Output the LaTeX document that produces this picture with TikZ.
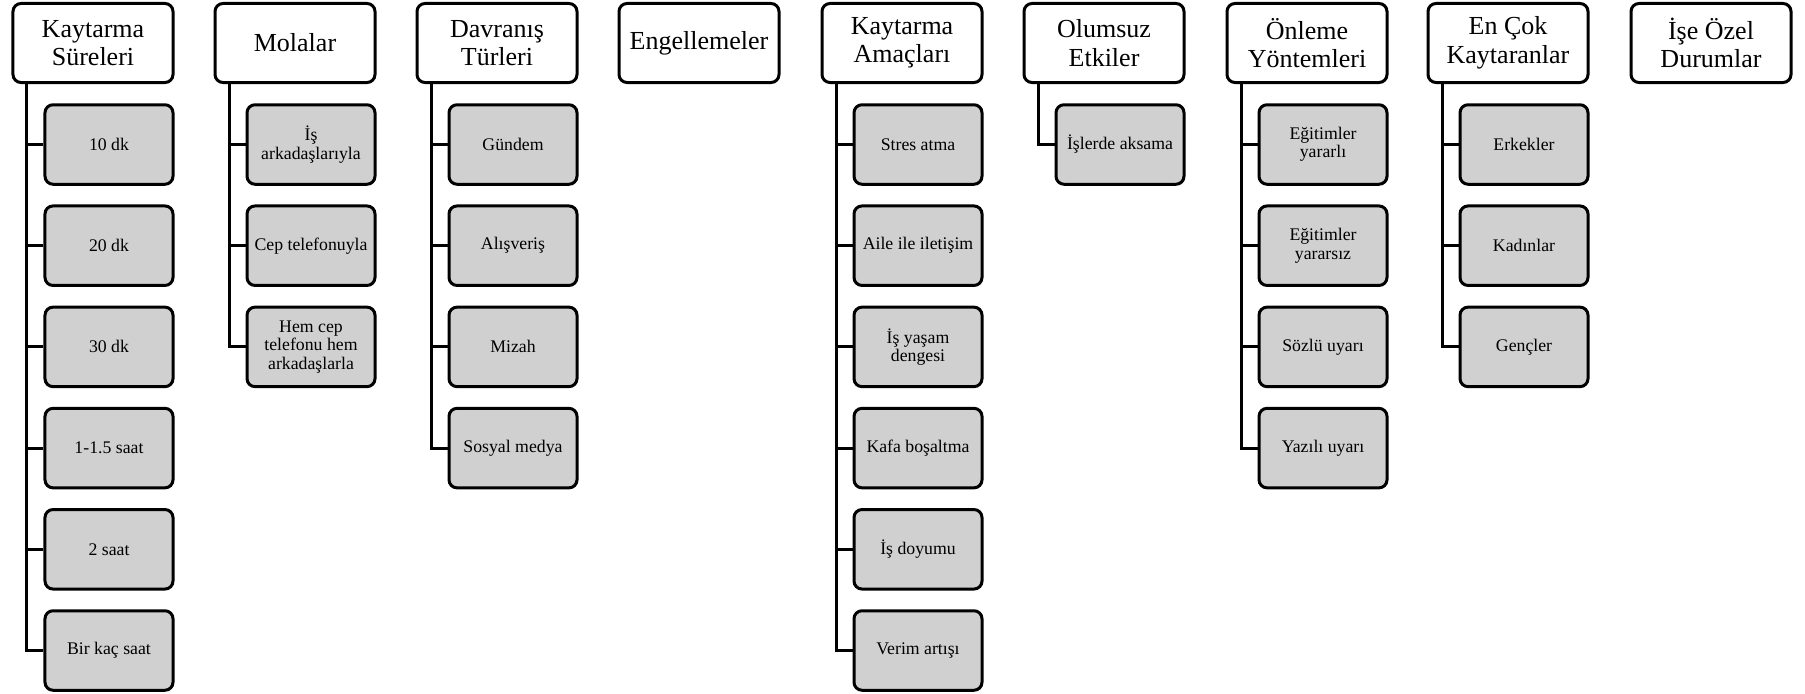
\documentclass[tikz,border=0pt]{standalone}
\usepackage{fontspec}
\setmainfont{Liberation Serif}
\newfontfamily\tnr{Liberation Serif}
\definecolor{altgri}{RGB}{208,208,208}
\tikzset{
	baslik/.style = {draw, line width=1.2pt, rounded corners=3.2pt, fill=white, align=center,
		minimum width=64pt, minimum height=31.6pt, inner sep=1pt,
		font=\tnr\fontsize{10.4}{11.4}\selectfont},
	alt/.style = {draw, line width=1.2pt, rounded corners=3.2pt, fill=altgri, align=center,
		minimum width=51.2pt, minimum height=31.8pt, inner sep=1pt,
		font=\tnr\fontsize{7.1}{7.4}\selectfont},
	kol/.style = {line width=1.2pt}
}
\begin{document}
\begin{tikzpicture}[x = 0.4pt, y = -0.4pt]
	\useasboundingbox (0,0) rectangle (1805,693);
	
	% Kaytarma Sureleri
	\begin{scope}[shift={(12,0)}]
		\node[baslik] (h1) at (81,43) {Kaytarma\\Süreleri};
		\coordinate (t1) at ([xshift=6.2pt]h1.south west);
		\foreach \m [count=\k] in {10 dk, 20 dk, 30 dk, 1-1.5 saat, 2 saat, Bir kaç saat} {
			\node[alt] (c1-\k) at (97,{144.5+101.2*(\k-1)}) {\m};
			\draw[kol] (t1) |- (c1-\k.west);
		}
	\end{scope}
	
	% Molalar
	\begin{scope}[shift={(214,0)}]
		\node[baslik] (h2) at (81,43) {Molalar};
		\coordinate (t2) at ([xshift=6.2pt]h2.south west);
		\foreach \m [count=\k] in {{İş\\arkadaşlarıyla}, Cep telefonuyla, {Hem cep\\telefonu hem\\arkadaşlarla}} {
			\node[alt] (c2-\k) at (97,{144.5+101.2*(\k-1)}) {\m};
			\draw[kol] (t2) |- (c2-\k.west);
		}
	\end{scope}
	
	% Davranis Turleri
	\begin{scope}[shift={(416,0)}]
		\node[baslik] (h3) at (81,43) {Davranış\\Türleri};
		\coordinate (t3) at ([xshift=6.2pt]h3.south west);
		\foreach \m [count=\k] in {Gündem, Alışveriş, Mizah, Sosyal medya} {
			\node[alt] (c3-\k) at (97,{144.5+101.2*(\k-1)}) {\m};
			\draw[kol] (t3) |- (c3-\k.west);
		}
	\end{scope}
	
	% Engellemeler
	\node[baslik] (h4) at (699,43) {Engellemeler};
	
	% Kaytarma Amaclari
	\begin{scope}[shift={(821,0)}]
		\node[baslik] (h5) at (81,43) {Kaytarma\\Amaçları};
		\coordinate (t5) at ([xshift=6.2pt]h5.south west);
		\foreach \m [count=\k] in {Stres atma, Aile ile iletişim, {İş yaşam\\dengesi}, Kafa boşaltma, İş doyumu, Verim artışı} {
			\node[alt] (c5-\k) at (97,{144.5+101.2*(\k-1)}) {\m};
			\draw[kol] (t5) |- (c5-\k.west);
		}
	\end{scope}
	
	% Olumsuz Etkiler
	\begin{scope}[shift={(1023,0)}]
		\node[baslik] (h6) at (81,43) {Olumsuz\\Etkiler};
		\coordinate (t6) at ([xshift=6.2pt]h6.south west);
		\node[alt] (c6-1) at (97,144.5) {İşlerde aksama};
		\draw[kol] (t6) |- (c6-1.west);
	\end{scope}
	
	% Onleme Yontemleri
	\begin{scope}[shift={(1226,0)}]
		\node[baslik] (h7) at (81,43) {Önleme\\Yöntemleri};
		\coordinate (t7) at ([xshift=6.2pt]h7.south west);
		\foreach \m [count=\k] in {{Eğitimler\\yararlı}, {Eğitimler\\yararsız}, Sözlü uyarı, Yazılı uyarı} {
			\node[alt] (c7-\k) at (97,{144.5+101.2*(\k-1)}) {\m};
			\draw[kol] (t7) |- (c7-\k.west);
		}
	\end{scope}
	
	% En Cok Kaytaranlar
	\begin{scope}[shift={(1427,0)}]
		\node[baslik] (h8) at (81,43) {En Çok\\Kaytaranlar};
		\coordinate (t8) at ([xshift=6.2pt]h8.south west);
		\foreach \m [count=\k] in {Erkekler, Kadınlar, Gençler} {
			\node[alt] (c8-\k) at (97,{144.5+101.2*(\k-1)}) {\m};
			\draw[kol] (t8) |- (c8-\k.west);
		}
	\end{scope}
	
	% Ise Ozel Durumlar
	\node[baslik] (h9) at (1711,43) {İşe Özel\\Durumlar};
\end{tikzpicture}
\end{document}
